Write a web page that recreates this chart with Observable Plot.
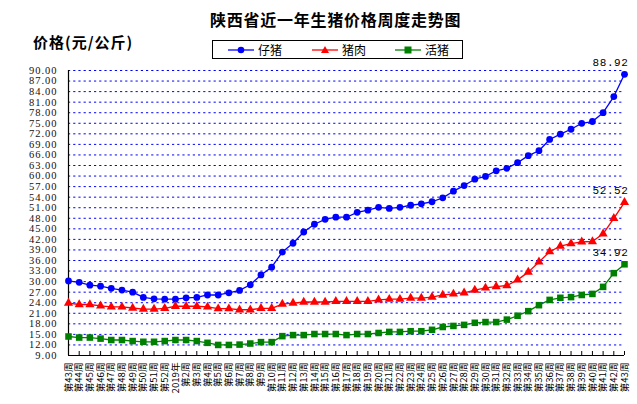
<!DOCTYPE html>
<html>
<head>
<meta charset="utf-8">
<script src="https://cdn.jsdelivr.net/npm/d3@7"></script>
<script src="https://cdn.jsdelivr.net/npm/@observablehq/plot@0.6"></script>
<style>
  body { margin: 0; background: #fff; }
  #wrap { position: relative; width: 637px; height: 404px; overflow: hidden; background: #fff; }
  #title { position: absolute; left: 210px; top: 9px; font-family: "Noto Sans CJK SC"; font-weight: bold; font-size: 16px; letter-spacing: 0.75px; white-space: nowrap; color: #000; line-height: 20px; }
  #ytitle { position: absolute; left: 33px; top: 32px; font-family: "Noto Sans CJK SC"; font-weight: bold; font-size: 15px; letter-spacing: 1px; white-space: nowrap; color: #000; line-height: 20px; }
  #legend { position: absolute; left: 212px; top: 40px; width: 249px; height: 17px; border: 1px solid #000; background: #fff; font-family: "Noto Sans CJK SC"; font-size: 12px; }
  .item { position: absolute; top: 0; height: 17px; display: flex; align-items: center; white-space: nowrap; }
  .item svg { margin-right: 4px; }
  svg.plot text { fill: #000; }
  svg.plot g[aria-label="y-axis tick label"] text { letter-spacing: 1px; fill: #111; }
  svg.plot g.endlabel text { letter-spacing: 0.6px; }
</style>
</head>
<body>
<div id="wrap">
  <div id="title">陕西省近一年生猪价格周度走势图</div>
  <div id="ytitle">价格(元/公斤)</div>
  <div id="legend"></div>
</div>
<script>
// ---- data ----
const weeks = ["第43周","第44周","第45周","第46周","第47周","第48周","第49周","第50周","第51周","第52周",
  "2019年","第2周","第3周","第4周","第5周","第6周","第7周","第8周","第9周","第10周",
  "第11周","第12周","第13周","第14周","第15周","第16周","第17周","第18周","第19周","第20周",
  "第21周","第22周","第23周","第24周","第25周","第26周","第27周","第28周","第29周","第30周",
  "第31周","第32周","第33周","第34周","第35周","第36周","第37周","第38周","第39周","第40周",
  "第41周","第42周","第43周"];

const seriesNames = ["仔猪", "猪肉", "活猪"];
const seriesColors = ["#0000FF", "#FF0000", "#008000"];
const labelColors = ["#5a5aff", "#ff5a6a", "#3a9a50"];

const piglet = [30.2,29.8,29.0,28.7,28.1,27.6,27.0,25.5,25.1,25.0,
  25.0,25.4,25.5,26.2,26.2,26.8,27.5,29.1,31.9,34.1,
  38.4,40.9,44.1,46.3,47.7,48.3,48.3,49.7,50.3,51.1,
  50.8,51.1,51.7,52.1,52.7,53.8,55.7,57.3,59.1,59.9,
  61.5,62.2,63.8,65.8,67.2,70.4,71.9,73.3,75.0,75.5,
  78.0,82.6,88.92];

const pork = [23.9,23.5,23.5,23.1,22.8,22.8,22.5,22.2,22.2,22.4,
  23.0,23.0,23.0,22.8,22.3,22.3,22.0,22.0,22.4,22.4,
  23.6,23.9,24.2,24.2,24.2,24.4,24.4,24.4,24.4,24.8,
  25.0,25.0,25.3,25.3,25.6,26.2,26.5,26.8,27.6,28.2,
  28.6,28.9,30.5,32.7,35.6,38.5,40.1,40.8,41.3,41.4,
  43.6,48.0,52.52];

const hog = [14.4,14.1,14.1,13.8,13.4,13.4,13.1,12.9,12.9,13.1,
  13.4,13.4,13.1,12.6,12.0,12.0,12.1,12.4,12.8,12.8,
  14.5,14.8,14.8,15.1,15.1,15.1,14.8,15.1,15.1,15.4,
  15.7,15.7,15.9,15.9,16.3,17.1,17.4,17.7,18.3,18.5,
  18.5,19.2,20.3,21.6,23.3,24.8,25.4,25.6,26.2,26.5,
  28.5,32.4,34.92];

const yTicks = [9,12,15,18,21,24,27,30,33,36,39,42,45,48,51,54,57,60,63,66,69,72,75,78,81,84,87,90];
const gridTicks = yTicks.slice(1);

// ---- tables ----
const valuesList = [piglet, pork, hog];
const idx = weeks.map((_, i) => i);
const tables = valuesList.map((vals, s) => vals.map((v, i) => ({i, v, s: seriesNames[s]})));
const lastPoints = tables.map(t => [t[t.length - 1]]);
const symbols = ["circle", "triangle", "square"];
const dotR = [3.4, 3.4, 3.7];

const marks = [
  Plot.ruleY(gridTicks, {stroke: "#0000FF", strokeWidth: 1, strokeDasharray: "2.2,3"}),
  Plot.ruleY([9], {stroke: "#000", strokeWidth: 1.2}),
  Plot.ruleX([0], {stroke: "#000", strokeWidth: 1.2}),
  Plot.ruleX(idx, {x: d => d, y1: 9, y2: 9, insetTop: -4, stroke: "#000", strokeWidth: 1}),
  Plot.axisY({ticks: yTicks, tickFormat: d => d.toFixed(2), tickSize: 0, tickPadding: 11, label: null,
    fontFamily: "Liberation Serif", fontSize: 10.5}),
  Plot.axisX({ticks: idx, tickFormat: i => weeks[i], tickRotate: -90, tickSize: 0, tickPadding: 7, label: null,
    fontFamily: "Noto Sans CJK SC", fontSize: 9.6}),
];
tables.forEach((t, s) => {
  marks.push(Plot.line(t, {x: "i", y: "v", stroke: seriesColors[s], strokeWidth: 1.3}));
  marks.push(Plot.dot(t, {x: "i", y: "v", fill: seriesColors[s], symbol: symbols[s], r: dotR[s]}));
  marks.push(Plot.text(lastPoints[s], {x: "i", y: "v", text: d => d.v.toFixed(2), fill: labelColors[s],
    textAnchor: "end", dx: 4, dy: -12, fontFamily: "Liberation Mono", fontSize: 11, className: "endlabel"}));
});

const chart = Plot.plot({
  width: 637,
  height: 404,
  marginLeft: 68,
  marginRight: 13,
  marginTop: 70,
  marginBottom: 49,
  style: {background: "transparent", overflow: "visible"},
  x: {type: "point", domain: idx, padding: 0, axis: null, label: null},
  y: {domain: [9, 90], axis: null, label: null},
  symbol: {type: "identity"},
  marks
});
chart.classList.add("plot");
chart.style.position = "absolute";
chart.style.left = "0px";
chart.style.top = "0px";
const wrap = document.getElementById("wrap");
wrap.insertBefore(chart, wrap.firstChild);

// ---- legend ----
const legend = document.getElementById("legend");
const itemLefts = [15, 99, 182];
const shapes = [
  c => `<circle cx="13" cy="5" r="3.3" fill="${c}"/>`,
  c => `<path d="M13,1 L17,8 L9,8 Z" fill="${c}"/>`,
  c => `<rect x="9.5" y="1.5" width="7" height="7" fill="${c}"/>`
];
seriesNames.forEach((name, s) => {
  const div = document.createElement("div");
  div.className = "item";
  div.style.left = itemLefts[s] + "px";
  div.innerHTML = `<svg width="26" height="10"><line x1="0" y1="5" x2="26" y2="5" stroke="${seriesColors[s]}" stroke-width="1.3"/>${shapes[s](seriesColors[s])}</svg><span>${name}</span>`;
  legend.appendChild(div);
});
</script>
</body>
</html>
